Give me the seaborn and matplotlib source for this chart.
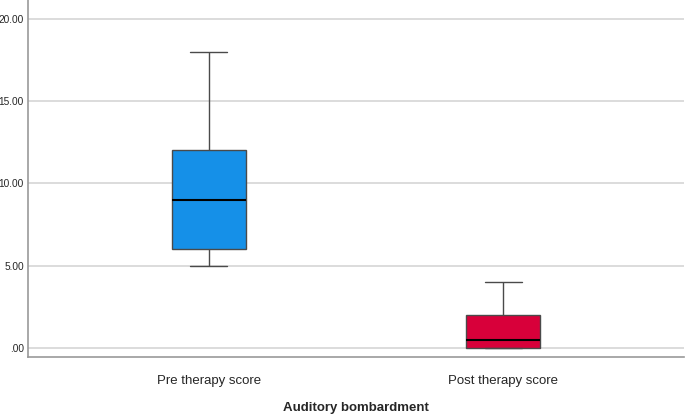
import pandas as pd
import matplotlib
matplotlib.use("Agg")
import matplotlib.pyplot as plt
import seaborn as sns

# scores per group (chosen so quartiles/whiskers match the reference boxes)
pre_scores = [5, 6, 6, 6, 8, 10, 12, 12, 15, 18]
post_scores = [0, 0, 0, 0, 0, 1, 2, 2, 3, 4]
groups = ["Pre therapy score", "Post therapy score"]
box_colors = ["#1590e8", "#d8003a"]
y_ticks = [0, 5, 10, 15, 20]
y_tick_labels = [".00", "5.00", "10.00", "15.00", "20.00"]

df = pd.DataFrame({
    "grupo": [groups[0]] * len(pre_scores) + [groups[1]] * len(post_scores),
    "score": pre_scores + post_scores,
})

sns.set_theme(style="white")
plt.rcParams['font.family'] = ['Liberation Sans', 'DejaVu Sans']

fig = plt.figure(figsize=(6.85, 4.16), dpi=100)
ax = fig.add_axes([28 / 685, 1 - 357 / 416, 656 / 685, 357 / 416])

sns.boxplot(data=df, x="grupo", y="score", hue="grupo", order=groups,
            palette=dict(zip(groups, box_colors)), legend=False, saturation=1,
            width=0.25, linecolor="#4a4a4a", linewidth=1.0,
            medianprops={"color": "black", "linewidth": 1.5},
            ax=ax)

ax.set_ylim(-0.55, 21.14)
ax.set_xlim(-0.614, 0.614 + 1)
ax.set_yticks(y_ticks)
ax.set_yticklabels(y_tick_labels, fontsize=7.3)
ax.tick_params(axis='y', length=0, pad=3)
ax.tick_params(axis='x', length=0, pad=13, labelsize=9.5)
ax.yaxis.grid(True, color="#d6d6d6", linewidth=1.2)
ax.set_axisbelow(True)

for lado in ["top", "right"]:
    ax.spines[lado].set_visible(False)
for lado in ["left", "bottom"]:
    ax.spines[lado].set_color("#999999")
    ax.spines[lado].set_linewidth(1.2)

ax.set_ylabel("")
ax.set_xlabel("Auditory bombardment", fontsize=9.5, fontweight="bold", labelpad=11)

fig.savefig("out.png", dpi=100)
